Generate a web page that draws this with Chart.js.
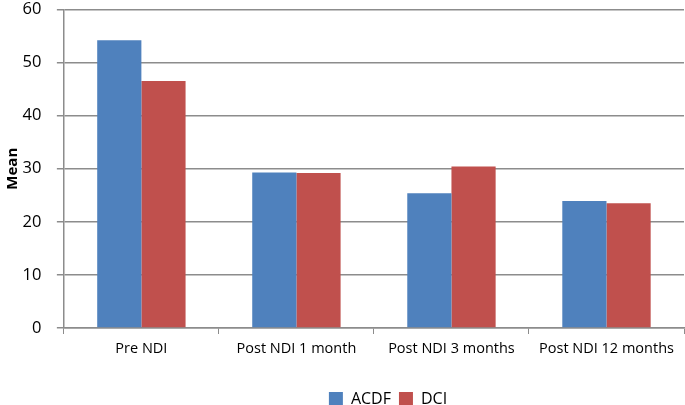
<!DOCTYPE html>
<html>
<head>
<meta charset="utf-8">
<script src="https://cdn.jsdelivr.net/npm/chart.js@4"></script>
<style>
html,body{margin:0;padding:0;background:#fff;overflow:hidden;}
#wrap{width:687px;height:433px;position:relative;top:-16px;left:-2px;}
</style>
</head>
<body>
<div id="wrap"><canvas id="c"></canvas></div>
<script>
const categories = ["Pre NDI", "Post NDI 1 month", "Post NDI 3 months", "Post NDI 12 months"];
const acdf = [54.2, 29.3, 25.4, 23.9];
const dci = [46.5, 29.2, 30.4, 23.5];
const yTicks = [0, 10, 20, 30, 40, 50, 60];

const font = "'Open Sans', 'Liberation Sans', sans-serif";
const shiftLegend = {
  id: 'shiftLegend',
  afterLayout(chart) {
    const lg = chart.legend;
    if (lg) { lg.left += 47; lg.right += 47; }
  }
};
new Chart(document.getElementById('c'), {
  type: 'bar',
  data: {
    labels: categories,
    datasets: [
      {label: 'ACDF', data: acdf, backgroundColor: '#4F81BD', barPercentage: 1.0, categoryPercentage: 0.57},
      {label: 'DCI', data: dci, backgroundColor: '#C0504D', barPercentage: 1.0, categoryPercentage: 0.57}
    ]
  },
  plugins: [shiftLegend],
  options: {
    responsive: true,
    maintainAspectRatio: false,
    animation: false,
    layout: {padding: {top: 0, right: 1, left: 0, bottom: 0}},
    plugins: {
      legend: {
        position: 'bottom',
        labels: {boxWidth: 14, boxHeight: 14, padding: 8, color: '#000', font: {family: font, size: 16}}
      },
      tooltip: {enabled: false}
    },
    scales: {
      x: {
        afterFit: (scale) => { scale.height = 55; },
        grid: {drawOnChartArea: false, drawTicks: true, tickLength: 6, color: '#8c8c8c'},
        border: {color: '#8c8c8c', width: 1.5},
        ticks: {color: '#000', padding: 6, font: {family: font, size: 14.5}, maxRotation: 0}
      },
      y: {
        min: 0, max: 60,
        afterBuildTicks: (axis) => { axis.ticks = yTicks.map(v => ({value: v})); },
        grid: {color: '#8c8c8c', lineWidth: 1.5, tickLength: 7},
        border: {color: '#8c8c8c', width: 1.5},
        ticks: {color: '#000', padding: 15.5, font: {family: font, size: 16.5}},
        title: {display: true, text: 'Mean', color: '#000', padding: {top: 6, bottom: -15}, font: {family: font, size: 15, weight: 'bold'}}
      }
    }
  }
});
</script>
</body>
</html>
